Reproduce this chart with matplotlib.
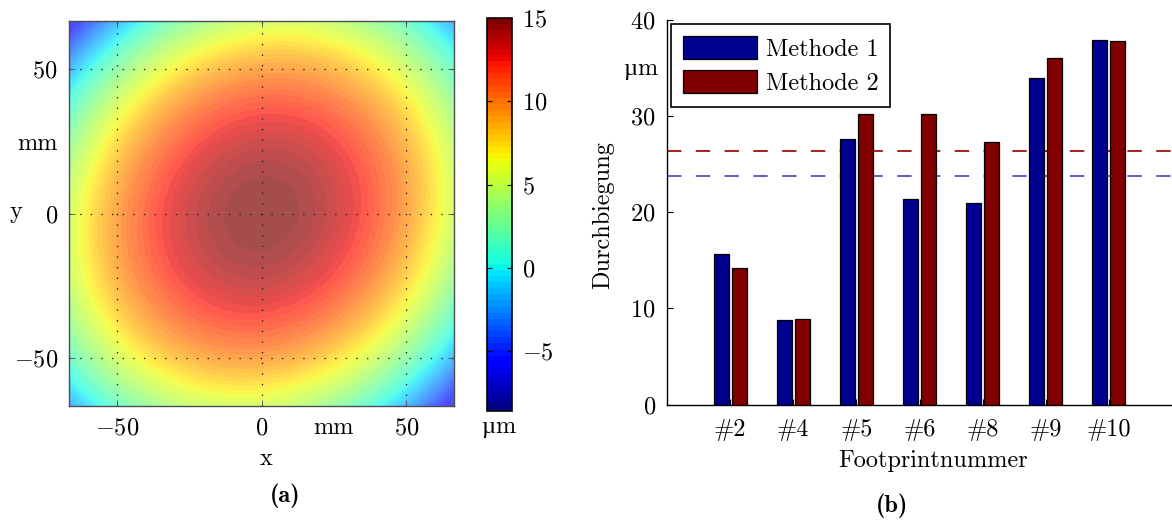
import numpy as np
import matplotlib.pyplot as plt
from matplotlib import colors, cm

plt.rcParams['font.family'] = ['cmr10']
plt.rcParams['mathtext.fontset'] = 'cm'
plt.rcParams['font.size'] = 17.5
plt.rcParams['axes.linewidth'] = 1.0

W, H = 1172, 525

# deflection field model (x, y in mm -> um)
half_width_mm = 66.5
peak_um = 15.0
curvature_um_per_mm2 = 0.0022
twist_um_per_mm2 = 0.0005
color_range_um = (-8.6, 15.0)

# bar chart data
footprints = ['#2', '#4', '#5', '#6', '#8', '#9', '#10']
methode_1 = [15.66, 8.81, 27.59, 21.33, 20.94, 33.92, 37.97]
methode_2 = [14.23, 8.88, 30.24, 30.17, 27.34, 36.01, 37.80]

blue = (0.0, 0.0, 0.5625)
red = (0.5, 0.0, 0.0)


def fx(px):
    return px / W


def fy(px):
    return 1 - px / H


def micron_label(x_split, y_base):
    # cmr10 has no usable micro sign, so the mu comes from a serif fallback
    fig.text(fx(x_split), fy(y_base), '\u00b5', ha='right', va='baseline',
             family='Liberation Serif')
    fig.text(fx(x_split), fy(y_base), 'm', ha='left', va='baseline')


fig = plt.figure(figsize=(W / 100, H / 100), dpi=100)

# ---- (a) surface ----
ax1 = fig.add_axes([fx(69), fy(406), fx(454) - fx(69), fy(21) - fy(406)])
xs = np.linspace(-half_width_mm, half_width_mm, 500)
X, Y = np.meshgrid(xs, xs)
Z = peak_um - curvature_um_per_mm2 * (X**2 + Y**2) + twist_um_per_mm2 * X * Y

jet64 = plt.get_cmap('jet', 64)
norm = colors.Normalize(*color_range_um)
ax1.imshow(Z, cmap=jet64, norm=norm, origin='lower', alpha=0.7,
           extent=[-half_width_mm, half_width_mm, -half_width_mm, half_width_mm],
           interpolation='nearest', zorder=0)
ax1.set_xlim(-half_width_mm, half_width_mm)
ax1.set_ylim(-half_width_mm, half_width_mm)
ax1.set_aspect('auto')

ax1.set_xticks([-50, 0, 25, 50])
ax1.set_xticklabels(['$-50$', '$0$', 'mm', '$50$'])
ax1.set_yticks([-50, 0, 25, 50])
ax1.set_yticklabels(['$-50$', '$0$', 'mm', '$50$'])
ax1.tick_params(direction='in', length=4, width=0.6, pad=8,
                top=True, right=True, color='0.3')
ax1.grid(True, color='0.1', linestyle=(0, (1.1, 7.4)), linewidth=0.9)
ax1.set_axisbelow(False)
# the unit labels sit in the tick label row without tick or grid line
for axis in (ax1.xaxis, ax1.yaxis):
    t = axis.get_major_ticks()[2]
    t.tick1line.set_visible(False)
    t.tick2line.set_visible(False)
    t.gridline.set_visible(False)
for s in ax1.spines.values():
    s.set_color('0.3')

fig.text(fx(15.5), fy(217.5), 'y', ha='center', va='baseline')
fig.text(fx(266), fy(465), 'x', ha='center', va='baseline')
fig.text(fx(285), fy(502), '(a)', ha='center', va='baseline', family='cmb10')

# colorbar
cax = fig.add_axes([fx(487), fy(411), fx(512) - fx(487), fy(18) - fy(411)])
sm = cm.ScalarMappable(norm=norm, cmap=jet64)
cb = fig.colorbar(sm, cax=cax)
cb.set_ticks([-5, 0, 5, 10, 15])
cb.set_ticklabels(['$-5$', '$0$', '$5$', '$10$', '$15$'])
cax.tick_params(direction='in', length=3.5, width=0.8, left=True, right=True, pad=7)
cb.outline.set_linewidth(1.2)
micron_label(495, 433)

# ---- (b) bars ----
ax2 = fig.add_axes([fx(667), fy(404.5), fx(1172) - fx(667), fy(20) - fy(404.5)])
pos = np.arange(1, len(footprints) + 1)
bar_w = 0.235
off = 0.143
ax2.bar(pos - off, methode_1, bar_w, color=blue, edgecolor='k', linewidth=0.9,
        label='Methode 1', zorder=3)
ax2.bar(pos + off, methode_2, bar_w, color=red, edgecolor='k', linewidth=0.9,
        label='Methode 2', zorder=3)

# mean lines of both methods
ax2.axhline(np.mean(methode_1), color=(0.37, 0.37, 0.8), linewidth=1.4,
            dashes=(7.4, 7.4), zorder=1)
ax2.axhline(np.mean(methode_2), color=(0.65, 0.12, 0.12), linewidth=1.4,
            dashes=(7.4, 7.4), zorder=1)

ax2.set_xlim(0, 8)
ax2.set_ylim(0, 40)
ax2.set_xticks(pos)
ax2.set_xticklabels(footprints)
ax2.set_yticks([0, 10, 20, 30, 40])
ax2.set_yticklabels(['$0$', '$10$', '$20$', '$30$', '$40$'])
ax2.tick_params(direction='in', length=4.5, width=0.8, pad=8)
ax2.tick_params(axis='x', pad=10)
ax2.spines['top'].set_visible(False)
ax2.spines['right'].set_visible(False)
micron_label(637, 75)

leg = ax2.legend(loc='upper left', bbox_to_anchor=(0.008, 0.99), borderaxespad=0,
                 handlelength=3.03, handleheight=1.1, handletextpad=0.36,
                 labelspacing=0.37, borderpad=0.5, fancybox=False,
                 framealpha=1, edgecolor='k')
leg.get_frame().set_linewidth(1.2)

fig.text(fx(603), fy(215), 'Durchbiegung', rotation=90, ha='center', va='center')
fig.text(fx(933), fy(466.5), 'Footprintnummer', ha='center', va='baseline')
fig.text(fx(892), fy(512), '(b)', ha='center', va='baseline', family='cmb10')

fig.savefig('out.png', dpi=100)
